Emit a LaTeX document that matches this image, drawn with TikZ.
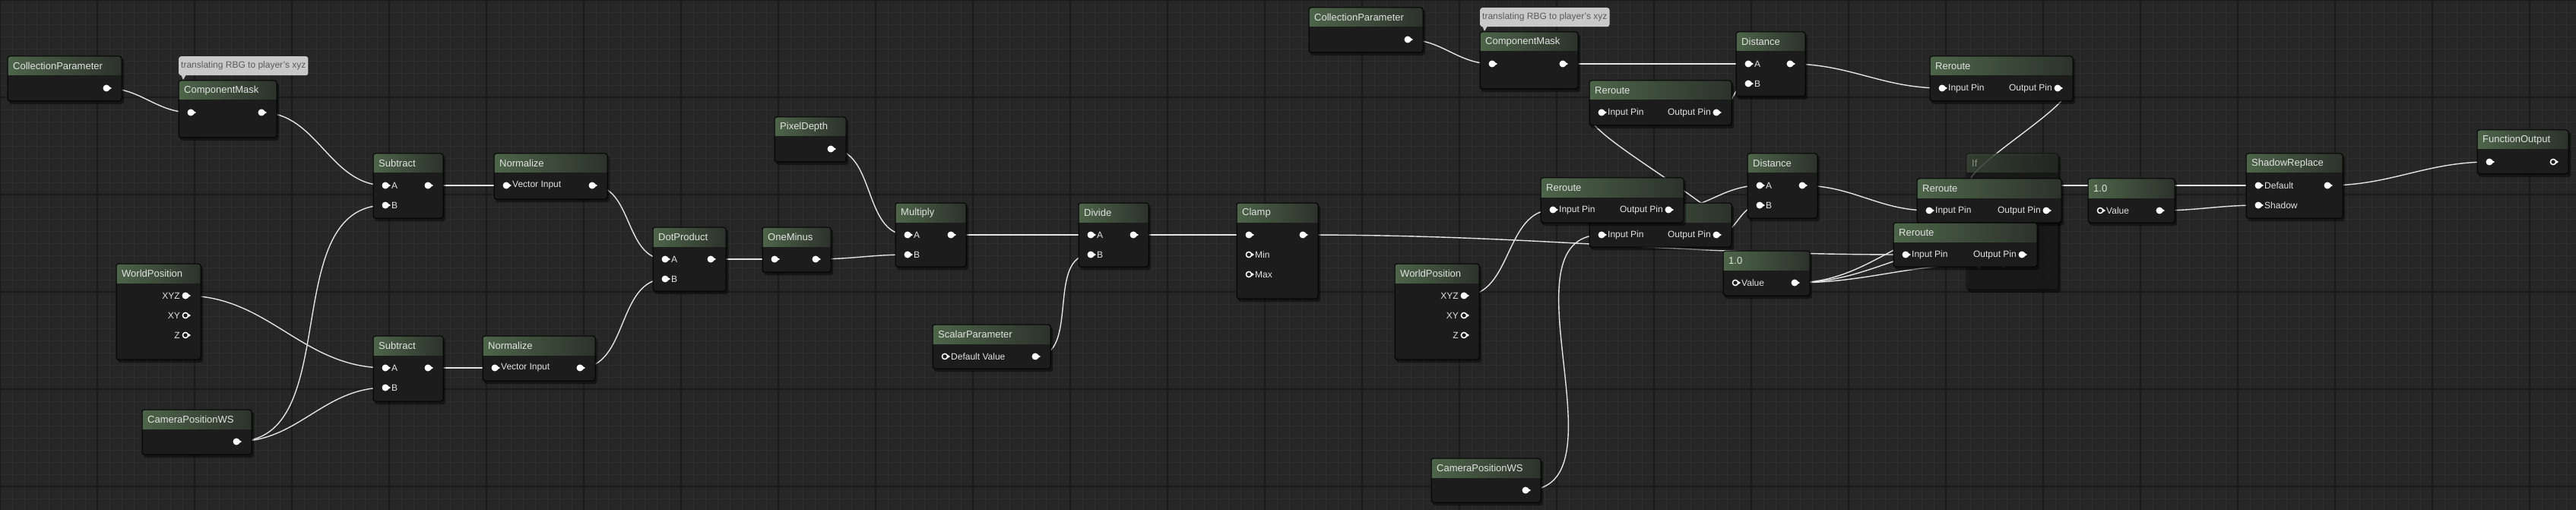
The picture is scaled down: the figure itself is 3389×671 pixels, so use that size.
\documentclass[tikz,border=0pt]{standalone}
\usepackage{fontspec}
\setmainfont{Liberation Sans}
\usetikzlibrary{calc}
\definecolor{bgc}{HTML}{262626}
\definecolor{minorc}{HTML}{2E2E2E}
\definecolor{majorc}{HTML}{1A1A1A}
\definecolor{nodebody}{HTML}{1C1C1C}
\definecolor{tl}{HTML}{4D6549}
\definecolor{tr}{HTML}{2C322B}
\definecolor{txt}{HTML}{E2E2E2}
\definecolor{wirec}{HTML}{E4E4E4}
\definecolor{cmtc}{HTML}{C9C9C9}
\definecolor{cmttxt}{HTML}{5A5A5A}
\pgfdeclarelayer{gridl}\pgfdeclarelayer{wires}
\pgfsetlayers{gridl,wires,main}
\tikzset{
 ttl/.style={text=txt,font=\fontsize{13}{15}\selectfont,inner sep=0pt},
 plab/.style={text=txt,font=\fontsize{12}{14}\selectfont,inner sep=0pt},
 wire/.style={draw=wirec,line width=1.4pt},
 comment/.style={fill=cmtc,text=cmttxt,rounded corners=3pt,font=\fontsize{12}{14}\selectfont,minimum height=25pt,inner sep=3pt,anchor=north west}
}
\newcommand\gnode[6]{%
 \def\nx{#2}\def\ny{#3}\def\nX{#4}\def\nn{#1}%
 \fill[black,opacity=0.45,rounded corners=3pt] (#2+2,#3+3) rectangle (#4+3,#5+4);
 \begin{scope}
 \clip[rounded corners=3pt] (#2,#3) rectangle (#4,#5);
 \fill[nodebody] (#2,#3) rectangle (#4,#5);
 \shade[left color=tl,right color=tr] (#2,#3) rectangle (#4,#3+25);
 \end{scope}
 \draw[black,line width=1pt,rounded corners=3pt] (#2,#3) rectangle (#4,#5);
 \node[ttl,anchor=west] (#1) at (#2+7,#3+13) {#6};
}
\newcommand\pinfull[1]{\fill[white] (#1) circle (4.5);
 \fill[white] ($(#1)+(3,-2.5)$) -- ($(#1)+(7,0)$) -- ($(#1)+(3,2.5)$) -- cycle;}
\newcommand\pinhollow[1]{\draw[white,line width=1.5pt] (#1) circle (3.6);
 \fill[white] ($(#1)+(4,-2)$) -- ($(#1)+(7,0)$) -- ($(#1)+(4,2)$) -- cycle;}
\newcommand\ipin[4]{\coordinate (\nn-#1) at (\nx+16,\ny+42+26*#2);
 \csname pin#4\endcsname{\nn-#1}%
 \node[plab,anchor=west] (\nn-#1-l) at ($(\nn-#1)+(8,0)$) {#3};}
\newcommand\opin[4]{\coordinate (\nn-#1) at (\nX-20,\ny+42+26*#2);
 \csname pin#4\endcsname{\nn-#1}%
 \node[plab,anchor=east] (\nn-#1-l) at ($(\nn-#1)+(-7,0)$) {#3};}
\newcommand\wire[2]{\draw[wire] (#1) to[out=0,in=180] (#2);}
\begin{document}
\begin{tikzpicture}[x=1pt,y=-1pt]
\useasboundingbox (0,0) rectangle (3389,671);
\begin{pgfonlayer}{gridl}
\fill[bgc] (0,0) rectangle (3389,671);
\foreach \i in {0,16,...,3392} \draw[minorc,line width=0.8pt] (\i,0) -- (\i,671);
\foreach \j in {0,16,...,672} \draw[minorc,line width=0.8pt] (0,\j) -- (3389,\j);
\foreach \i in {0,128,...,3392} \draw[majorc,line width=1.3pt] (\i,0) -- (\i,671);
\foreach \j in {0,128,...,640} \draw[majorc,line width=1.3pt] (0,\j) -- (3389,\j);
\end{pgfonlayer}

% ---- left part
\gnode{cp1}{10}{74}{160}{133}{CollectionParameter}
\opin{o}{0}{}{full}
\node[comment] (c1) at (235,74) {translating RBG to player's xyz};
\fill[cmtc] (238,98) -- (241,105) -- (245,98) -- cycle;
\gnode{cm1}{235}{106}{364}{181}{ComponentMask}
\ipin{i}{0}{}{full}\opin{o}{0}{}{full}
\gnode{sub1}{491}{202}{583}{287}{Subtract}
\ipin{A}{0}{A}{full}\ipin{B}{1}{B}{full}\opin{o}{0}{}{full}
\gnode{n1}{650}{202}{799}{262}{Normalize}
\ipin{i}{0}{Vector Input}{full}\opin{o}{0}{}{full}
\gnode{wp1}{153}{347}{264}{473}{WorldPosition}
\opin{xyz}{0}{XYZ}{full}\opin{xy}{1}{XY}{hollow}\opin{z}{2}{Z}{hollow}
\gnode{sub2}{491}{442}{583}{528}{Subtract}
\ipin{A}{0}{A}{full}\ipin{B}{1}{B}{full}\opin{o}{0}{}{full}
\gnode{n2}{635}{442}{783}{501}{Normalize}
\ipin{i}{0}{Vector Input}{full}\opin{o}{0}{}{full}
\gnode{cam1}{187}{539}{331}{598}{CameraPositionWS}
\opin{o}{0}{}{full}
\gnode{dot}{859}{299}{955}{383}{DotProduct}
\ipin{A}{0}{A}{full}\ipin{B}{1}{B}{full}\opin{o}{0}{}{full}
\gnode{om}{1003}{299}{1093}{358}{OneMinus}
\ipin{i}{0}{}{full}\opin{o}{0}{}{full}
\gnode{pd}{1019}{154}{1113}{213}{PixelDepth}
\opin{o}{0}{}{full}
\gnode{mul}{1178}{267}{1271}{351}{Multiply}
\ipin{A}{0}{A}{full}\ipin{B}{1}{B}{full}\opin{o}{0}{}{full}
\gnode{div}{1419}{267}{1511}{351}{Divide}
\ipin{A}{0}{A}{full}\ipin{B}{1}{B}{full}\opin{o}{0}{}{full}
\gnode{cl}{1627}{267}{1734}{393}{Clamp}
\ipin{i}{0}{}{full}\ipin{min}{1}{Min}{hollow}\ipin{max}{2}{Max}{hollow}\opin{o}{0}{}{full}
\gnode{sc}{1227}{427}{1382}{485}{ScalarParameter}
\ipin{i}{0}{Default Value}{hollow}\opin{o}{0}{}{full}

% ---- right part
\gnode{cp2}{1722}{10}{1872}{69}{CollectionParameter}
\opin{o}{0}{}{full}
\node[comment] (c2) at (1947,10) {translating RBG to player's xyz};
\fill[cmtc] (1950,34) -- (1953,41) -- (1957,34) -- cycle;
\gnode{cm2}{1947}{42}{2076}{117}{ComponentMask}
\ipin{i}{0}{}{full}\opin{o}{0}{}{full}
\gnode{d1}{2284}{42}{2375}{127}{Distance}
\ipin{A}{0}{A}{full}\ipin{B}{1}{B}{full}\opin{o}{0}{}{full}
\gnode{r1}{2539}{74}{2727}{133}{Reroute}
\ipin{i}{0}{Input Pin}{full}\opin{o}{0}{Output Pin}{full}
\gnode{r2}{2091}{106}{2278}{165}{Reroute}
\ipin{i}{0}{Input Pin}{full}\opin{o}{0}{Output Pin}{full}
\gnode{d2}{2299}{202}{2391}{287}{Distance}
\ipin{A}{0}{A}{full}\ipin{B}{1}{B}{full}\opin{o}{0}{}{full}
\gnode{r4}{2091}{267}{2278}{325}{Reroute}
\ipin{i}{0}{Input Pin}{full}\opin{o}{0}{Output Pin}{full}
\gnode{r3}{2027}{234}{2215}{293}{Reroute}
\ipin{i}{0}{Input Pin}{full}\opin{o}{0}{Output Pin}{full}
\gnode{v1}{2267}{330}{2381}{389}{1.0}
\ipin{i}{0}{Value}{hollow}\opin{o}{0}{}{full}
\begin{scope}[opacity=0.5]
\gnode{if}{2587}{202}{2708}{381}{If}
\ipin{A}{0}{A}{full}\ipin{B}{1}{B}{full}\ipin{gt}{2}{A > B}{full}\ipin{eq}{3}{A == B}{full}\ipin{lt}{4}{A < B}{full}\opin{o}{0}{}{full}
\end{scope}
\gnode{r5}{2522}{235}{2712}{293}{Reroute}
\ipin{i}{0}{Input Pin}{full}\opin{o}{0}{Output Pin}{full}
\gnode{r6}{2491}{293}{2680}{351}{Reroute}
\ipin{i}{0}{Input Pin}{full}\opin{o}{0}{Output Pin}{full}
\gnode{v2}{2747}{235}{2861}{293}{1.0}
\ipin{i}{0}{Value}{hollow}\opin{o}{0}{}{full}
\gnode{sr}{2955}{202}{3082}{287}{ShadowReplace}
\ipin{def}{0}{Default}{full}\ipin{sh}{1}{Shadow}{full}\opin{o}{0}{}{full}
\gnode{fo}{3259}{171}{3379}{229}{FunctionOutput}
\ipin{i}{0}{}{full}\opin{o}{0}{}{hollow}
\gnode{wp2}{1835}{347}{1946}{473}{WorldPosition}
\opin{xyz}{0}{XYZ}{full}\opin{xy}{1}{XY}{hollow}\opin{z}{2}{Z}{hollow}
\gnode{cam2}{1883}{603}{2027}{661}{CameraPositionWS}
\opin{o}{0}{}{full}

\begin{pgfonlayer}{wires}
\wire{cp1-o}{cm1-i}\wire{cm1-o}{sub1-A}\wire{cam1-o}{sub1-B}
\wire{wp1-xyz}{sub2-A}\wire{cam1-o}{sub2-B}
\wire{sub1-o}{n1-i}\wire{sub2-o}{n2-i}
\wire{n1-o}{dot-A}\wire{n2-o}{dot-B}
\wire{dot-o}{om-i}\wire{om-o}{mul-B}\wire{pd-o}{mul-A}
\wire{mul-o}{div-A}\wire{sc-o}{div-B}\wire{div-o}{cl-i}
\wire{cl-o}{r6-i}
\wire{cp2-o}{cm2-i}\wire{cm2-o}{d1-A}
\wire{r2-o}{d1-B}\wire{r4-o}{r2-i}\wire{r4-o}{d2-B}
\wire{r3-o}{d2-A}\wire{wp2-xyz}{r3-i}\wire{cam2-o}{r4-i}
\wire{d1-o}{r1-i}\wire{d2-o}{r5-i}
\wire{r1-o}{if-A}\wire{r5-o}{if-B}
\wire{v1-o}{if-gt}\wire{v1-o}{if-eq}\wire{v1-o}{if-lt}
\wire{if-o}{sr-def}\wire{v2-o}{sr-sh}\wire{sr-o}{fo-i}
\end{pgfonlayer}
\end{tikzpicture}
\end{document}
